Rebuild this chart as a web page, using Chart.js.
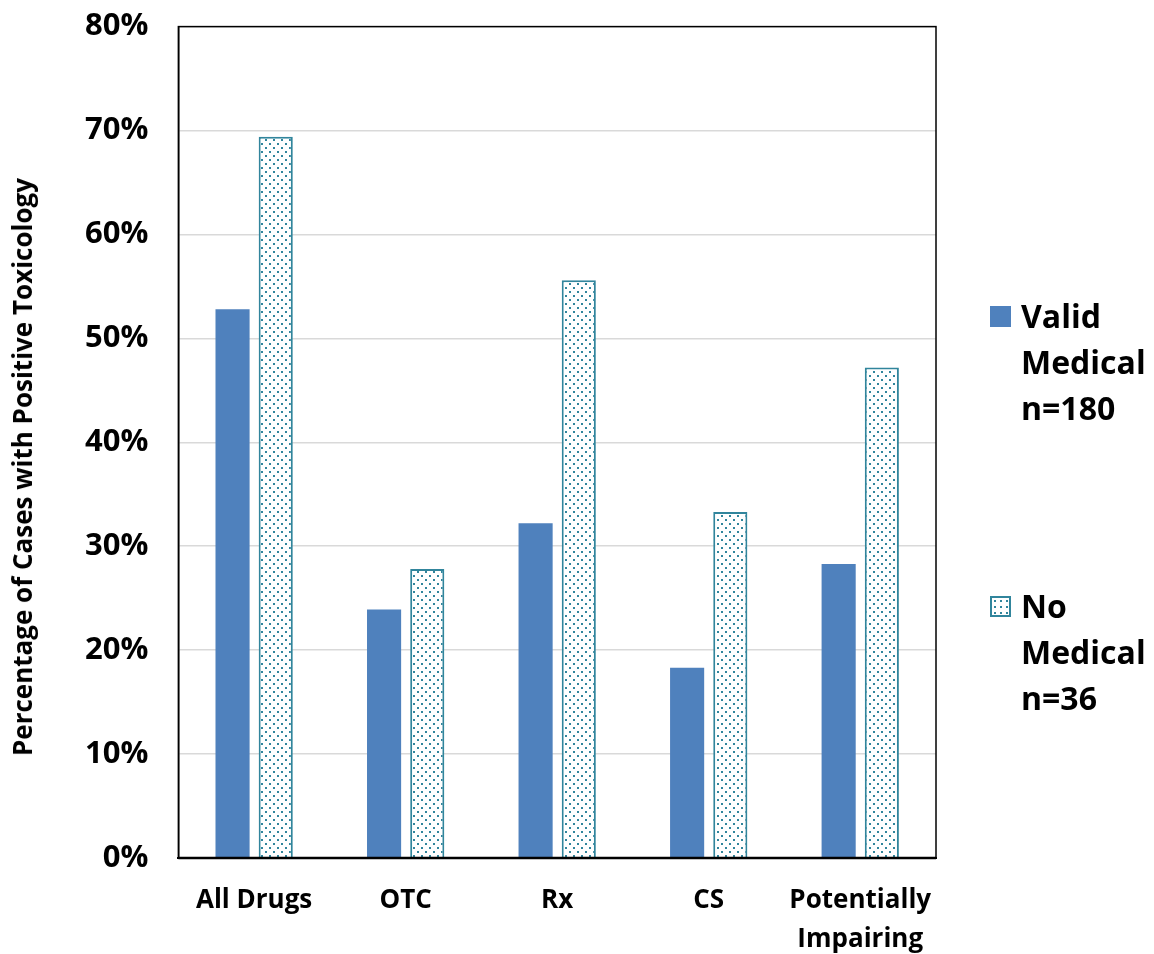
<!DOCTYPE html>
<html>
<head>
<meta charset="utf-8">
<script src="https://cdn.jsdelivr.net/npm/chart.js"></script>
<style>
    body { margin: 0; background: #fff; overflow: hidden; }
    #wrap { position: relative; width: 1154px; height: 954px; overflow: hidden; }
    #chart { position: absolute; left: 0; top: -22px; }
    #ytitle { position: absolute; left: 22px; top: 467px; transform: translate(-50%, -50%) rotate(-90deg); white-space: nowrap; font-family: "Open Sans", sans-serif; font-weight: bold; font-size: 26px; color: #000; }
    #legend { position: absolute; left: 990px; top: 0; font-family: "Open Sans", sans-serif; font-weight: bold; font-size: 32px; color: #000; }
    .item { position: absolute; left: 0; width: 170px; line-height: 46px; }
    .box { position: absolute; left: 0; top: 13px; width: 21px; height: 21px; box-sizing: border-box; }
    .txt { position: absolute; left: 31px; top: 0; white-space: nowrap; }
</style>
</head>
<body>
<div id="wrap">
    <canvas id="chart" width="1154" height="996"></canvas>
    <div id="ytitle"></div>
    <div id="legend"></div>
</div>
<script>
/* ### Data ### */

const categories = ['All Drugs', 'OTC', 'Rx', 'CS', ['Potentially', 'Impairing']];
const validMedical = [52.8, 23.9, 32.2, 18.3, 28.3];
const noMedical = [69.4, 27.8, 55.6, 33.3, 47.2];
const seriesLabels = [['Valid', 'Medical', 'n=180'], ['No', 'Medical', 'n=36']];
const yTicks = [0, 10, 20, 30, 40, 50, 60, 70, 80];
const yTitle = 'Percentage of Cases with Positive Toxicology';

const BLUE = '#4F81BD';
const TEAL = '#31859C';
const FONT = '"Open Sans", sans-serif';

// Dotted fill for the "No Medical" bars
function dotPattern() {
    let tile = document.createElement('canvas');
    tile.width = 8;
    tile.height = 8;
    let c = tile.getContext('2d');
    c.fillStyle = '#fff';
    c.fillRect(0, 0, 8, 8);
    c.fillStyle = TEAL;
    c.fillRect(1, 1, 2, 2);
    c.fillRect(5, 5, 2, 2);
    return c.createPattern(tile, 'repeat');
}

// Frame round the plot area
const frame = {
    id: 'frame',
    afterDraw(chart) {
        const a = chart.chartArea;
        const ctx = chart.ctx;
        ctx.save();
        ctx.strokeStyle = '#000';
        ctx.lineWidth = 1.5;
        ctx.strokeRect(a.left, a.top, a.right - a.left, a.bottom - a.top);
        ctx.lineWidth = 2.5;
        ctx.beginPath();
        ctx.moveTo(a.left, a.bottom);
        ctx.lineTo(a.right, a.bottom);
        ctx.stroke();
        ctx.restore();
    }
};

const chart = new Chart(document.getElementById('chart').getContext('2d'), {
    type: 'bar',
    data: {
        labels: categories,
        datasets: [{
                label: seriesLabels[0].join(' '),
                data: validMedical,
                backgroundColor: BLUE,
                borderWidth: 0,
                barPercentage: 0.79,
                categoryPercentage: 0.57
            },
            {
                label: seriesLabels[1].join(' '),
                data: noMedical,
                backgroundColor: dotPattern(),
                borderColor: TEAL,
                borderWidth: 2,
                barPercentage: 0.79,
                categoryPercentage: 0.57
            }
        ]
    },
    options: {
        responsive: false,
        animation: false,
        layout: {
            padding: { top: 0, right: 218, left: 55, bottom: 0 }
        },
        plugins: {
            legend: { display: false },
            tooltip: { enabled: false }
        },
        scales: {
            x: {
                grid: { display: false },
                border: { color: '#000', width: 2 },
                ticks: {
                    color: '#000',
                    padding: 15,
                    autoSkip: false,
                    maxRotation: 0,
                    minRotation: 0,
                    font: { family: FONT, size: 26, weight: 'bold', lineHeight: 1.5 }
                }
            },
            y: {
                min: 0,
                max: 80,
                afterBuildTicks(axis) {
                    axis.ticks = yTicks.map(v => ({ value: v }));
                },
                grid: { color: '#D9D9D9', lineWidth: 1.5, drawTicks: false },
                border: { color: '#000', width: 1.5 },
                ticks: {
                    color: '#000',
                    padding: 30,
                    font: { family: FONT, size: 31, weight: 'bold' },
                    callback: v => v + '%'
                }
            }
        }
    },
    plugins: [frame]
});

// Axis title
document.getElementById('ytitle').textContent = yTitle;

// Legend on the right
const legend = document.getElementById('legend');
const legendTops = [293, 583];
chart.data.datasets.forEach((ds, i) => {
    let item = document.createElement('div');
    item.className = 'item';
    item.style.top = legendTops[i] + 'px';
    let box = document.createElement('div');
    box.className = 'box';
    if (i == 0) {
        box.style.background = BLUE;
    } else {
        box.style.border = '2px solid ' + TEAL;
        box.style.background = 'radial-gradient(' + TEAL + ' 1px, transparent 1.2px) 0 0 / 6px 6px';
    }
    let txt = document.createElement('div');
    txt.className = 'txt';
    txt.innerHTML = seriesLabels[i].join('<br>');
    item.appendChild(box);
    item.appendChild(txt);
    legend.appendChild(item);
});
</script>
</body>
</html>
